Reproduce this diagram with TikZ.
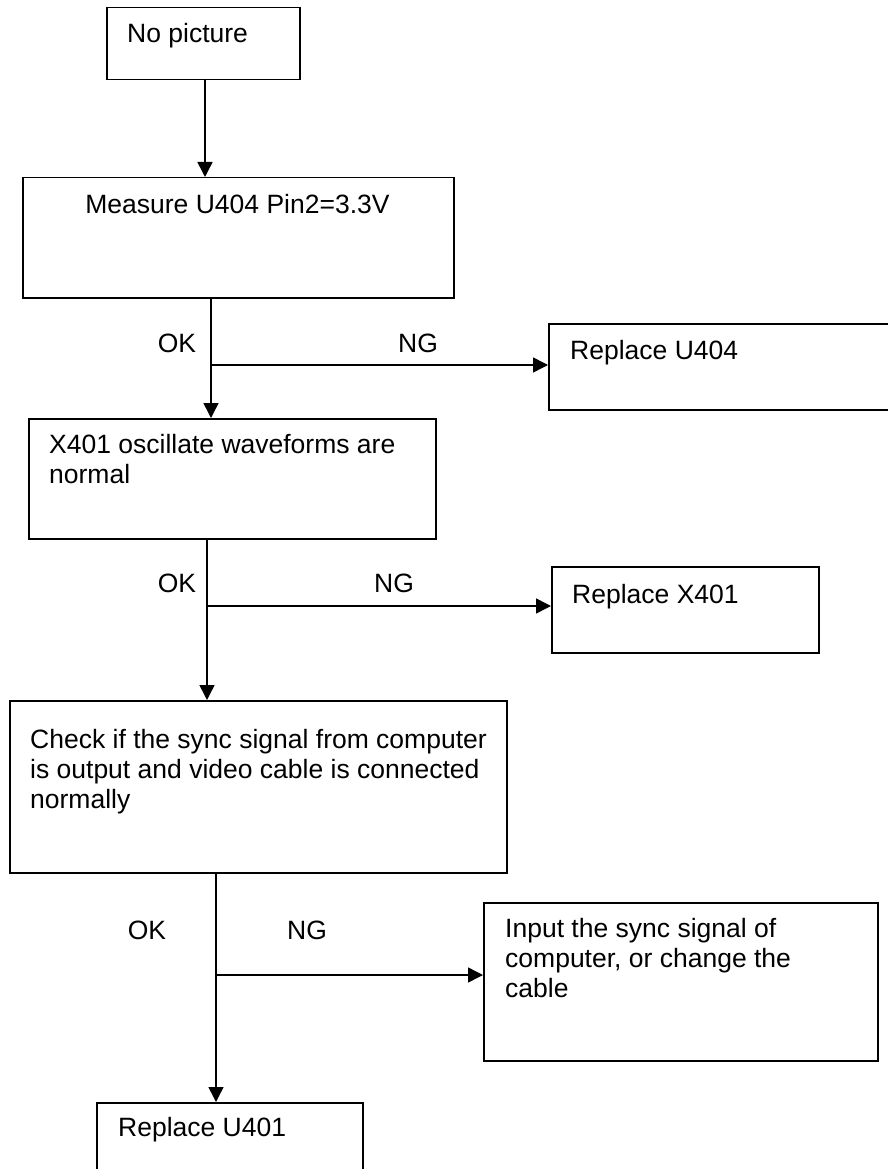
\documentclass[tikz,border=0pt]{standalone}
\usepackage{fontspec}
\setmainfont{Liberation Sans}
\usetikzlibrary{arrows.meta}
\begin{document}
\begin{tikzpicture}[x=1pt,y=-1pt,
  box/.style={draw, line width=1.5pt, inner sep=0pt, anchor=north west},
  txt/.style={inner sep=0pt, anchor=base west, align=left,
              font=\fontsize{26.5}{30}\selectfont},
  lbl/.style={inner sep=0pt, font=\fontsize{26.5}{30}\selectfont},
  conn/.style={line width=1.5pt},
  arr/.style={conn, -{Triangle[length=15pt,width=15pt]}}]
\useasboundingbox (0,0) rectangle (888,1169);

% boxes
\node[box, minimum width=193pt, minimum height=72pt]  (b1) at (106,7)   {};
\node[box, minimum width=431pt, minimum height=120pt] (b2) at (22,177)  {};
\node[box, minimum width=360pt, minimum height=86pt]  (b3) at (548,323) {};
\node[box, minimum width=407pt, minimum height=120pt] (b4) at (28,418)  {};
\node[box, minimum width=267pt, minimum height=86pt]  (b5) at (551,566) {};
\node[box, minimum width=497pt, minimum height=172pt] (b6) at (9,700)   {};
\node[box, minimum width=394pt, minimum height=158pt] (b7) at (483,902) {};
\node[box, minimum width=266pt, minimum height=100pt] (b8) at (96,1102) {};

% box texts (multi-line texts are placed by the baseline of their last line)
\node[txt] (t1) at (127,43) {No picture};
\node[txt, anchor=base] (t2) at (237.5,213) {Measure U404 Pin2=3.3V};
\node[txt] (t3) at (570,359) {Replace U404};
\node[txt] (t4) at (49,483) {X401 oscillate waveforms are\\normal};
\node[txt] (t5) at (572,603) {Replace X401};
\node[txt] (t6) at (30,808) {Check if the sync signal from computer\\is output and video cable is connected\\normally};
\node[txt] (t7) at (505,997) {Input the sync signal of\\computer, or change the\\cable};
\node[txt] (t8) at (118,1136) {Replace U401};

% trunk positions and branch points
\coordinate (x1) at (205,0);
\coordinate (x2) at (211,0);
\coordinate (x3) at (207,0);
\coordinate (x4) at (216,0);
\coordinate (j1) at (211,365);
\coordinate (j2) at (207,606);
\coordinate (j3) at (216,975);

% connectors
\draw[arr] (b1.south -| x1) -- (b2.north -| x1);
\draw[arr] (b2.south -| x2) -- (b4.north -| x2);
\draw[arr] (j1) -- (j1 -| b3.west);
\draw[arr] (b4.south -| x3) -- (b6.north -| x3);
\draw[arr] (j2) -- (j2 -| b5.west);
\draw[arr] (b6.south -| x4) -- (b8.north -| x4);
\draw[arr] (j3) -- (j3 -| b7.west);

% branch labels
\node[lbl] (ok1) at (177,343) {OK};
\node[lbl] (ng1) at (418,343) {NG};
\node[lbl] (ok2) at (177,583) {OK};
\node[lbl] (ng2) at (394,583) {NG};
\node[lbl] (ok3) at (147,930) {OK};
\node[lbl] (ng3) at (307,930) {NG};
\end{tikzpicture}
\end{document}
